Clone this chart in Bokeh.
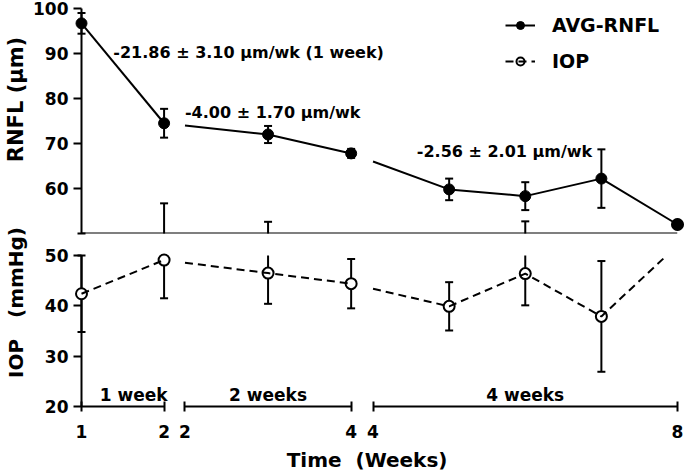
import math
from bokeh.plotting import figure
from bokeh.models import Range1d, FixedTicker, Label, Legend, LegendItem, Span
from bokeh.layouts import row, column
from bokeh.embed import file_html
from bokeh.resources import INLINE
from bokeh.core.properties import value

# ---------------- data ----------------
weeks = [1, 2, 3, 4, 5, 6, 7, 8]
rnfl_mean = [96.7, 74.5, 72.0, 67.8, 59.8, 58.3, 62.2, 52.0]
rnfl_sd = [2.3, 3.2, 1.9, 1.0, 2.4, 3.1, 6.5, float("nan")]
iop_mean = [42.4, 49.1, 46.5, 44.4, 39.9, 46.4, 37.9, 52.0]
iop_sd = [7.6, 7.6, 6.1, 4.9, 4.8, 6.3, 11.0, float("nan")]

segment_weeks = [(1, 2), (2, 4), (4, 8)]
slope_labels = ["-21.86 ± 3.10 µm/wk (1 week)", "-4.00 ± 1.70 µm/wk", "-2.56 ± 2.01 µm/wk"]
slope_label_y = [90.3, 77.0, 68.2]
rnfl_ticks = [60, 70, 80, 90, 100]
iop_ticks = [20, 30, 40, 50]
series_names = ["AVG-RNFL", "IOP"]
y_titles = ["RNFL (µm)", "IOP\u00a0\u00a0\u00a0(mmHg)"]
x_title = "Time\u00a0\u00a0(Weeks)"

# ---------------- layout constants ----------------
FONT = "DejaVu Sans"
SEG_X0 = [0, 104, 293]        # display start of each axis segment
SEG_W = [83, 167, 306]        # display width of each axis segment
SLOPE_X_SHIFT = [32, 0, 44]
WEEK_LABEL_SHIFT = [11, 0, 0]
RNFL_RANGE = (50, 100)
IOP_RANGE = (20, 50)
X_TITLE_POS = (287, 9.3)


def seg_of(w):
    for i, (a, b) in enumerate(segment_weeks):
        if a <= w <= b:
            return i


def xpos(w, s):
    a, b = segment_weeks[s]
    return SEG_X0[s] + (w - a) / (b - a) * SEG_W[s]


segs = [seg_of(w) for w in weeks]
xs = [xpos(w, s) for w, s in zip(weeks, segs)]


def broken_pieces(vals):
    pieces = [[(xs[0], vals[0])]]
    for i in range(1, len(xs)):
        if segs[i] != segs[i - 1]:
            x0, y0, x1, y1 = xs[i - 1], vals[i - 1], xs[i], vals[i]
            xb = SEG_X0[segs[i]]
            yb = y0 + (xb - x0) / (x1 - x0) * (y1 - y0)
            pieces.append([(xb, yb)])
        pieces[-1].append((xs[i], vals[i]))
    return pieces


def clip_pieces(pieces, lo, hi):
    out = []
    for pts in pieces:
        cur = []
        for (x0, y0), (x1, y1) in zip(pts, pts[1:]):
            dy = y1 - y0
            t0, t1 = 0.0, 1.0
            if dy == 0:
                if not (lo <= y0 <= hi):
                    t0, t1 = 1.0, 0.0
            else:
                ta, tb = (lo - y0) / dy, (hi - y0) / dy
                t0, t1 = max(0.0, min(ta, tb)), min(1.0, max(ta, tb))
            if t0 > t1:
                if len(cur) > 1:
                    out.append(cur)
                cur = []
                continue
            pa = (x0 + t0 * (x1 - x0), y0 + t0 * dy)
            pb = (x0 + t1 * (x1 - x0), y0 + t1 * dy)
            if cur and t0 == 0.0:
                cur.append(pb)
            else:
                if len(cur) > 1:
                    out.append(cur)
                cur = [pa, pb]
            if t1 < 1.0:
                out.append(cur)
                cur = []
        if len(cur) > 1:
            out.append(cur)
    return out


def whisker_parts(means, sds, lo, hi, eps=1e-6):
    v = dict(x0=[], y0=[], x1=[], y1=[])
    cx, cy = [], []
    for x, m, s in zip(xs, means, sds):
        if math.isnan(s):
            continue
        dn, up = m - s, m + s
        a, b = max(dn, lo), min(up, hi)
        if a < b:
            v["x0"].append(x); v["x1"].append(x)
            v["y0"].append(a); v["y1"].append(b)
        for c in (dn, up):
            if lo - eps <= c <= hi + eps:
                cx.append(x); cy.append(c)
    return v, cx, cy


def style_yaxis(p, ticks):
    ax = p.yaxis[0]
    ax.ticker = FixedTicker(ticks=ticks)
    ax.axis_line_width = 2
    ax.axis_line_color = "black"
    ax.major_tick_line_width = 2
    ax.major_tick_line_color = "black"
    ax.major_tick_out = 8
    ax.major_tick_in = 0
    ax.minor_tick_line_color = None
    ax.major_label_text_font = FONT
    ax.major_label_text_font_size = "17px"
    ax.major_label_text_font_style = "bold"
    ax.major_label_text_color = "black"
    ax.major_label_standoff = 5


x_range = Range1d(0, SEG_X0[-1] + SEG_W[-1])
MAIN_W = 655

# ---------------- top panel: RNFL ----------------
top = figure(width=MAIN_W, height=244, x_range=x_range, y_range=Range1d(*RNFL_RANGE),
             output_backend="svg", toolbar_location=None, x_axis_location=None,
             min_border_left=48, min_border_right=8, min_border_top=8, min_border_bottom=11,
             outline_line_color=None, background_fill_color="white")
top.xgrid.visible = False
top.ygrid.visible = False
style_yaxis(top, rnfl_ticks)
top.add_layout(Span(location=RNFL_RANGE[0], dimension="width", line_width=2, line_color="black"))

# IOP parts that reach into the upper panel
iw, icx, icy = whisker_parts(iop_mean, iop_sd, RNFL_RANGE[0], RNFL_RANGE[1])
top.segment(x0=iw["x0"], y0=iw["y0"], x1=iw["x1"], y1=iw["y1"], line_width=2, line_color="black", level="overlay")
top.scatter(x=icx, y=icy, marker="dash", size=8, line_width=2, line_color="black", level="overlay")
top_keep = [i for i, m in enumerate(iop_mean) if RNFL_RANGE[0] <= m <= RNFL_RANGE[1]]
iop_pts_top = top.scatter(x=[xs[i] for i in top_keep], y=[iop_mean[i] for i in top_keep], marker="circle",
                          size=11, fill_color="white", line_color="black", line_width=2, level="overlay")
iop_line_top = top.line(x=[xs[i] for i in top_keep], y=[iop_mean[i] for i in top_keep],
                        line_width=2, line_color="black", line_dash="8 5", level="overlay")

rp = clip_pieces(broken_pieces(rnfl_mean), *RNFL_RANGE)
r_line = top.multi_line(xs=[[q[0] for q in pc] for pc in rp], ys=[[q[1] for q in pc] for pc in rp],
                        line_width=2, line_color="black", level="overlay")
rw, rcx, rcy = whisker_parts(rnfl_mean, rnfl_sd, RNFL_RANGE[0], RNFL_RANGE[1])
top.segment(x0=rw["x0"], y0=rw["y0"], x1=rw["x1"], y1=rw["y1"], line_width=2, line_color="black", level="overlay")
top.scatter(x=rcx, y=rcy, marker="dash", size=8, line_width=2, line_color="black", level="overlay")
r_pts = top.scatter(x=xs, y=rnfl_mean, marker="circle", size=11, fill_color="black",
                    line_color="black", level="overlay")

top.text(x=[SEG_X0[i] + SLOPE_X_SHIFT[i] for i in range(3)], y=slope_label_y, text=slope_labels,
         text_align="left", text_baseline="middle", text_font=value(FONT),
         text_font_size="16px", text_font_style="bold", text_color="black", level="overlay")

legend = Legend(items=[LegendItem(label=series_names[0], renderers=[r_line, r_pts]),
                       LegendItem(label=series_names[1], renderers=[iop_pts_top, iop_line_top])],
                location=(424, 161), orientation="vertical", glyph_width=30, glyph_height=20,
                label_height=20, label_standoff=17, spacing=14, padding=0, margin=0,
                border_line_color=None, background_fill_alpha=0,
                label_text_font=FONT, label_text_font_size="19px", label_text_font_style="bold",
                label_text_color="black")
top.add_layout(legend)

# ---------------- bottom panel: IOP ----------------
bot = figure(width=MAIN_W, height=230, x_range=x_range, y_range=Range1d(*IOP_RANGE),
             output_backend="svg", toolbar_location=None,
             min_border_left=48, min_border_right=8, min_border_top=11, min_border_bottom=68,
             outline_line_color=None, background_fill_color="white")
bot.xgrid.visible = False
bot.ygrid.visible = False
style_yaxis(bot, iop_ticks)

tick_pos, tick_lab = [], {}
for s, (a, b) in enumerate(segment_weeks):
    for w in (a, b):
        xp = float(xpos(w, s))
        tick_pos.append(xp)
        tick_lab[xp] = str(w)
xa = bot.xaxis[0]
xa.ticker = FixedTicker(ticks=tick_pos)
xa.major_label_overrides = tick_lab
xa.axis_line_color = None
xa.major_tick_in = 5
xa.major_tick_out = 5
xa.major_tick_line_width = 2
xa.major_tick_line_color = "black"
xa.minor_tick_line_color = None
xa.major_label_text_font = FONT
xa.major_label_text_font_size = "17px"
xa.major_label_text_font_style = "bold"
xa.major_label_text_color = "black"
xa.major_label_standoff = 13

bot.segment(x0=SEG_X0, y0=[IOP_RANGE[0]] * 3, x1=[x0 + w for x0, w in zip(SEG_X0, SEG_W)],
            y1=[IOP_RANGE[0]] * 3, line_width=2, line_color="black", level="overlay")
week_text = [f"{b - a} week" + ("s" if b - a > 1 else "") for a, b in segment_weeks]
bot.text(x=[SEG_X0[i] + SEG_W[i] / 2 + WEEK_LABEL_SHIFT[i] for i in range(3)], y=[IOP_RANGE[0]] * 3,
         text=week_text, text_align="center", text_baseline="bottom", y_offset=-2,
         text_font=value(FONT), text_font_size="17px", text_font_style="bold", text_color="black",
         level="overlay")

bw, bcx, bcy = whisker_parts(iop_mean, iop_sd, IOP_RANGE[0], IOP_RANGE[1])
bot.segment(x0=bw["x0"], y0=bw["y0"], x1=bw["x1"], y1=bw["y1"], line_width=2, line_color="black", level="overlay")
bot.scatter(x=bcx, y=bcy, marker="dash", size=8, line_width=2, line_color="black", level="overlay")
keep = [i for i, m in enumerate(iop_mean) if IOP_RANGE[0] <= m <= IOP_RANGE[1]]
bot.scatter(x=[xs[i] for i in keep], y=[iop_mean[i] for i in keep], marker="circle", size=11,
            fill_color="white", line_color="black", line_width=2, level="overlay")
ip = clip_pieces(broken_pieces(iop_mean), *IOP_RANGE)
bot.multi_line(xs=[[q[0] for q in pc] for pc in ip], ys=[[q[1] for q in pc] for pc in ip],
               line_width=2, line_color="black", line_dash="8 5", level="overlay")

bot.text(x=[X_TITLE_POS[0]], y=[X_TITLE_POS[1]], text=[x_title],
         text_align="center", text_baseline="middle", text_font=value(FONT),
         text_font_size="20px", text_font_style="bold", text_color="black", level="overlay")

# ---------------- y-axis titles ----------------
lab = figure(width=30, height=474, x_range=Range1d(0, 1), y_range=Range1d(0, 1),
             output_backend="svg", toolbar_location=None, x_axis_location=None, y_axis_location=None,
             min_border=0, outline_line_color=None)
lab.xgrid.visible = False
lab.ygrid.visible = False
lab.add_layout(Label(x=15, y=375, x_units="screen", y_units="screen", angle=90, angle_units="deg",
                     text=y_titles[0], text_align="center", text_baseline="middle", text_font=FONT,
                     text_font_size="21px", text_font_style="bold", text_color="black"))
lab.add_layout(Label(x=15, y=172, x_units="screen", y_units="screen", angle=90, angle_units="deg",
                     text=y_titles[1], text_align="center", text_baseline="middle", text_font=FONT,
                     text_font_size="20px", text_font_style="bold", text_color="black"))

layout = row(lab, column(top, bot))
open("out.html", "w").write(file_html(layout, INLINE))
